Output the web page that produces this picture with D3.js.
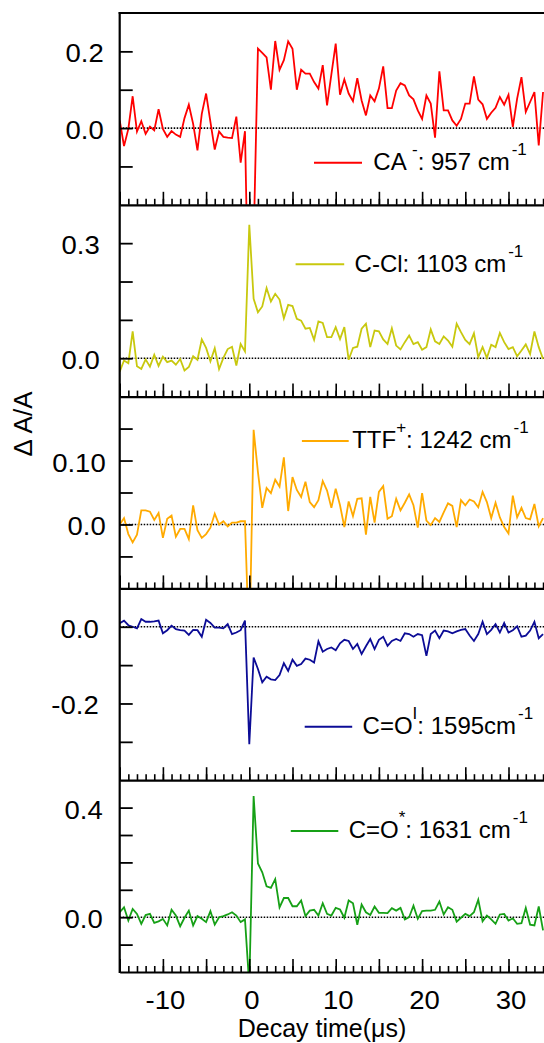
<!DOCTYPE html>
<html><head><meta charset="utf-8">
<script src="https://cdn.jsdelivr.net/npm/d3@7"></script>
<style>
body{margin:0;background:#fff}
svg{display:block}
text{font-family:"Liberation Sans",Arial,Helvetica,sans-serif;fill:#000}
</style>
</head><body>
<svg id="chart" width="544" height="1043"></svg>
<script>
// ---------------- DATA ----------------
const times = [-15,-14.5,-14,-13.5,-13,-12.5,-12,-11.5,-11,-10.5,-10,-9.5,-9,-8.5,-8,-7.5,-7,-6.5,-6,-5.5,-5,-4.5,-4,-3.5,-3,-2.5,-2,-1.5,-1,-0.5,0,0.5,1,1.5,2,2.5,3,3.5,4,4.5,5,5.5,6,6.5,7,7.5,8,8.5,9,9.5,10,10.5,11,11.5,12,12.5,13,13.5,14,14.5,15,15.5,16,16.5,17,17.5,18,18.5,19,19.5,20,20.5,21,21.5,22,22.5,23,23.5,24,24.5,25,25.5,26,26.5,27,27.5,28,28.5,29,29.5,30,30.5,31,31.5,32,32.5,33,33.5,34];

const caValues = [0.02,-0.047,-0.002,0.083,-0.009,0.018,-0.015,0.004,-0.006,0.049,-0.002,-0.023,-0.008,-0.017,-0.023,0.026,0.061,0.011,-0.058,0.037,0.09,0.016,-0.056,-0.009,-0.023,-0.025,-0.026,0.030,-0.09,-0.008,-0.6,-0.3,0.207,0.196,0.184,0.1,0.227,0.152,0.177,0.226,0.207,0.1,0.152,0.142,0.142,0.12,0.103,0.164,0.059,0.14,0.22,0.087,0.127,0.09,0.07,0.13,0.072,0.033,0.085,0.07,0.103,0.161,0.052,0.052,0.098,0.117,0.111,0.085,0.075,0.046,0.024,0.085,0.064,-0.025,0.148,0.046,0.046,0.02,0.006,0.024,0.064,0.064,0.135,0.074,0.062,0.024,0.04,0.053,0.081,0.061,0.087,0.003,0.077,0.133,0.042,0.068,0.094,-0.045,0.094];

const cclValues = [-0.035,-0.006,-0.013,0.07,-0.021,-0.028,-0.003,-0.022,0.009,-0.02,0.004,-0.01,-0.006,-0.017,-0.002,-0.032,-0.023,0.005,-0.004,0.049,0.027,-0.008,0.026,-0.028,0.001,0.024,0.03,-0.019,0.037,0.018,0.348,0.155,0.12,0.135,0.183,0.148,0.168,0.153,0.104,0.139,0.136,0.103,0.098,0.077,0.079,0.048,0.096,0.092,0.055,0.055,0.081,0.05,0.081,-0.004,0.027,0.03,0.077,0.09,0.029,0.072,0.07,0.049,0.037,0.078,0.033,0.023,0.042,0.059,0.037,0.042,0.022,0.029,0.075,0.044,0.037,0.057,0.046,0.03,0.09,0.068,0.048,0.037,0.065,0.003,0.029,0.001,0.035,0.029,0.066,0.042,0.024,0.029,0.005,0.02,0.036,0.011,0.07,0.029,-0.002];

const ttfValues = [0,0.01,-0.015,-0.028,-0.016,0.022,0.022,0.02,0.007,0.018,-0.021,0.009,0.014,-0.019,-0.007,-0.007,-0.023,0.03,-0.009,-0.021,-0.015,-0.005,0.017,0,0.005,-0.003,0.003,0.003,0.005,0.005,-0.2,0.148,0.082,0.026,0.057,0.049,0.07,0.059,0.105,0.021,0.074,0.054,0.043,0.067,0.035,0.027,0.038,0.068,0.053,0.026,0.056,0.03,-0.004,0.036,0.013,0.04,0.041,-0.016,0.043,0.003,0.051,0.06,0.009,0.013,0.04,0.022,0.034,0.047,0.03,-0.005,0.049,0.006,-0.001,0.01,0.004,0.019,0.033,0.029,-0.004,0.038,0.03,0.039,0.036,0.027,0.051,0.035,0.01,0.034,0.011,-0.004,-0.014,0.045,0.011,0.026,0.01,0.008,0.032,-0.003,0.01];

const coIValues = [0.009,0.016,0.004,0,-0.004,0.02,0.013,0.013,0.014,0.016,-0.017,-0.009,0.003,-0.006,-0.009,-0.01,-0.021,-0.008,-0.009,-0.026,0.018,0.01,-0.002,-0.002,-0.004,0.007,-0.019,-0.015,-0.009,0.016,-0.306,-0.08,-0.11,-0.145,-0.13,-0.137,-0.139,-0.126,-0.095,-0.115,-0.086,-0.102,-0.097,-0.083,-0.086,-0.093,-0.038,-0.065,-0.058,-0.054,-0.061,-0.043,-0.034,-0.037,-0.058,-0.045,-0.071,-0.051,-0.032,-0.058,-0.034,-0.026,-0.05,-0.037,-0.032,-0.037,-0.017,-0.019,-0.026,-0.019,-0.022,-0.076,-0.019,-0.01,-0.03,-0.01,-0.012,-0.017,-0.012,-0.008,-0.006,-0.023,-0.037,-0.019,0.013,-0.019,-0.008,0.007,-0.015,0.01,-0.015,-0.009,0.001,-0.026,-0.023,-0.01,0.013,-0.03,-0.019];

const coStarValues = [0.018,0.036,-0.012,0.03,0.012,-0.024,0.008,0.012,-0.021,-0.015,-0.006,-0.03,0.027,0.006,-0.033,-0.002,0.024,-0.03,0.004,-0.006,-0.018,0.022,-0.027,0,0.004,0.01,0.018,0.006,-0.018,-0.008,-0.25,0.442,0.196,0.164,0.113,0.107,0.139,0.036,0.07,0.07,0.04,0.04,0.061,0.004,0.024,0.027,0.006,0.051,0.012,0.006,0.034,0.028,-0.002,0.061,0.051,-0.028,0.046,0.018,0.008,0.039,0.016,0.016,0.015,0.033,0.024,0.034,-0.008,0,0.042,-0.006,0.022,0.024,0.024,0.027,0.057,0.01,0.036,0.027,-0.016,-0.002,0.012,0.004,0.018,0.064,-0.015,0.006,-0.008,-0.024,0.01,0.012,-0.012,-0.004,-0.024,-0.022,0.034,-0.027,-0.03,0.039,-0.048];

const seriesValues = [caValues, cclValues, ttfValues, coIValues, coStarValues];
const seriesColors = ["#ff0000", "#c8c80e", "#ffaa00", "#0c0c96", "#16a016"];
// legend text parts: [text, isSuperscript]
const legendParts = [
  [["CA ",0],["-",1],[": 957 cm",0],["-1",1]],
  [["C-Cl: 1103 cm",0],["-1",1]],
  [["TTF",0],["+",1],[": 1242 cm",0],["-1",1]],
  [["C=O",0],["I",1],[": 1595cm",0],["-1",1]],
  [["C=O",0],["*",1],[": 1631 cm",0],["-1",1]]
];
const yDomains = [[-0.2,0.3],[-0.1,0.4],[-0.1,0.2],[-0.4,0.1],[-0.2,0.5]];
const yTickValues = [[-0.1,0,0.1,0.2],[0,0.1,0.2,0.3],[-0.05,0,0.05,0.1,0.15],[-0.3,-0.2,-0.1,0],[-0.1,0,0.1,0.2,0.3,0.4]];
const yLabelValues = [[0,0.2],[0,0.3],[0,0.1],[0,-0.2],[0,0.4]];
const yLabelTexts = [["0.0","0.2"],["0.0","0.3"],["0.0","0.10"],["0.0","-0.2"],["0.0","0.4"]];
const xDomain = [-15, 35];
const xLabelValues = [-10, 0, 10, 20, 30];
const xLabelTexts = ["-10", "0", "10", "20", "30"];
const xTitle = "Decay time(\u03BCs)";
const yTitle = "\u0394 A/A";

// ---------------- LAYOUT ----------------
const W = 544, H = 1043;
const left = 119.7, pxPerUnit = 8.64;
const top0 = 13, panelH = 191.8;
const yLabelPad = [16, 20, 14, 21, 17];
const tickStretch = 1.1;
const legendLayout = [
  {x0:314, x1:362, y:162.7, tx:373.3},
  {x0:295.6, x1:344.2, y:264.3, tx:354.6},
  {x0:301.9, x1:348.7, y:441, tx:352.2},
  {x0:304.7, x1:352.2, y:726.7, tx:362.6},
  {x0:290.8, x1:338.3, y:831, tx:348.7}
];

const svg = d3.select("#chart");
const x = d3.scaleLinear().domain(xDomain).range([left, left + (xDomain[1]-xDomain[0])*pxPerUnit]);

const defs = svg.append("defs");

function stretch(sel) {
  sel.each(function() {
    const w = this.getComputedTextLength();
    if (w > 0) d3.select(this).attr("textLength", w*tickStretch).attr("lengthAdjust", "spacingAndGlyphs");
  });
}

seriesValues.forEach((vals, k) => {
  const pt = top0 + k*panelH, pb = top0 + (k+1)*panelH;
  const y = d3.scaleLinear().domain(yDomains[k]).range([pb, pt]);
  const g = svg.append("g");

  defs.append("clipPath").attr("id", "clip"+k)
    .append("rect").attr("x", left).attr("y", pt).attr("width", W-left+20).attr("height", pb-pt);

  // zero dotted line
  g.append("line").attr("x1", left).attr("x2", W+10).attr("y1", y(0)).attr("y2", y(0))
    .attr("stroke", "#000").attr("stroke-width", 1.6).attr("stroke-dasharray", "1.5 1.5");

  // data line
  const line = d3.line().x((d,i) => x(times[i])).y(d => y(d));
  g.append("path").datum(vals)
    .attr("clip-path", "url(#clip"+k+")")
    .attr("fill", "none").attr("stroke", seriesColors[k]).attr("stroke-width", 1.8)
    .attr("stroke-linejoin", "miter").attr("d", line);

  // left axis: inward ticks
  const yAx = d3.axisLeft(y).tickValues(yTickValues[k]).tickSizeInner(-13).tickSizeOuter(0)
    .tickPadding(yLabelPad[k])
    .tickFormat(d => {
      const j = yLabelValues[k].findIndex(v => Math.abs(v-d) < 1e-9);
      return j >= 0 ? yLabelTexts[k][j] : "";
    });
  const ga = g.append("g").attr("transform", `translate(${left},0)`).call(yAx);
  ga.select(".domain").remove();
  ga.selectAll(".tick line").attr("stroke", "#000").attr("stroke-width", 1.8);
  ga.selectAll(".tick text").attr("font-size", 25).attr("font-family", "Liberation Sans, Arial, sans-serif").attr("dy", "0.42em").call(stretch);

  // bottom axis: minor and major inward ticks
  const minorAx = d3.axisBottom(x).ticks(50).tickSizeInner(-6).tickSizeOuter(0).tickFormat("");
  const gm = g.append("g").attr("transform", `translate(0,${pb})`).call(minorAx);
  gm.select(".domain").remove();
  gm.selectAll(".tick line").attr("stroke", "#000").attr("stroke-width", 1.6);

  const majorAx = d3.axisBottom(x).ticks(10).tickSizeInner(-13).tickSizeOuter(0).tickPadding(19)
    .tickFormat(d => {
      if (k !== seriesValues.length-1) return "";
      const j = xLabelValues.indexOf(d);
      return j >= 0 ? xLabelTexts[j] : "";
    });
  const gM = g.append("g").attr("transform", `translate(0,${pb})`).call(majorAx);
  gM.select(".domain").attr("stroke", "#000").attr("stroke-width", 2.2);
  gM.selectAll(".tick line").attr("stroke", "#000").attr("stroke-width", 1.6);
  gM.selectAll(".tick text").attr("font-size", 25).attr("font-family", "Liberation Sans, Arial, sans-serif").attr("dx", 2).call(stretch);

  // legend
  const L = legendLayout[k];
  g.append("line").attr("x1", L.x0).attr("x2", L.x1).attr("y1", L.y).attr("y2", L.y)
    .attr("stroke", seriesColors[k]).attr("stroke-width", 2);
  const t = g.append("text").attr("x", L.tx).attr("y", L.y + 7.3).attr("font-size", 24);
  let raised = false;
  legendParts[k].forEach(([s, sup], idx) => {
    const ts = t.append("tspan").text(s);
    if (sup) {
      ts.attr("font-size", 17);
      if (idx === legendParts[k].length - 1) ts.attr("dx", 2);
      if (!raised) { ts.attr("dy", -15); raised = true; }
    } else if (raised) { ts.attr("dy", 15); raised = false; }
  });
});

// frame: left spine and top border
svg.append("line").attr("x1", left).attr("x2", left).attr("y1", top0-1).attr("y2", top0 + 5*panelH + 1)
  .attr("stroke", "#000").attr("stroke-width", 2.2);
svg.append("line").attr("x1", left-1).attr("x2", W+5).attr("y1", top0).attr("y2", top0)
  .attr("stroke", "#000").attr("stroke-width", 2.2);

// axis titles
svg.append("text").attr("x", 322).attr("y", 1036.5).attr("text-anchor", "middle")
  .attr("font-size", 25).text(xTitle);
svg.append("text").attr("transform", "translate(31.5,424) rotate(-90)").attr("text-anchor", "middle")
  .attr("font-size", 26).text(yTitle);
</script>
</body></html>
